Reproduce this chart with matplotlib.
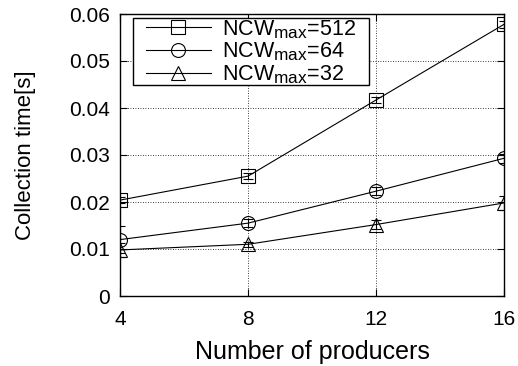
import matplotlib
matplotlib.use("Agg")
import matplotlib.pyplot as plt
from matplotlib.patches import Rectangle
import matplotlib._mathtext as _mt

_mt.SHRINK_FACTOR = 0.8

producers = [4, 8, 12, 16]
t512 = [0.0204, 0.0255, 0.0417, 0.0578]
t64 = [0.0120, 0.0155, 0.0223, 0.0293]
t32 = [0.0098, 0.0110, 0.0152, 0.0198]
e512 = [0.0006, 0.0007, 0.0007, 0.0008]
e64 = [0.0028, 0.0009, 0.0009, 0.0009]
e32 = [0.0014, 0.0005, 0.0010, 0.0015]
labels = ["NCW$_{\\mathregular{max}}$=512", "NCW$_{\\mathregular{max}}$=64", "NCW$_{\\mathregular{max}}$=32"]
markers = ["s", "o", "^"]
yticks = [0, 0.01, 0.02, 0.03, 0.04, 0.05, 0.06]
ytick_labels = ["0", "0.01", "0.02", "0.03", "0.04", "0.05", "0.06"]

plt.rcParams['font.family'] = ['Liberation Sans', 'DejaVu Sans']
plt.rcParams['mathtext.fontset'] = 'custom'
plt.rcParams['mathtext.rm'] = 'Liberation Sans'

W, H = 518, 366
L, R, T, B = 120, 504, 14, 296
fig = plt.figure(figsize=(W/100, H/100), dpi=100)
ax = fig.add_axes([L/W, 1-B/H, (R-L)/W, (B-T)/H])

for y, e, m, lab in zip([t512, t64, t32], [e512, e64, e32], markers, labels):
    ax.errorbar(producers, y, yerr=e, fmt='none', ecolor='black',
                elinewidth=0.8, capsize=3.5, capthick=0.8)
    ax.plot(producers, y, marker=m, color='black', mfc='none',
            markersize=10, linewidth=0.8, markeredgewidth=0.8, label=lab)

ax.set_xlim(4, 16)
ax.set_ylim(0, 0.06)
ax.set_xticks(producers)
ax.set_yticks(yticks)
ax.set_yticklabels(ytick_labels)
ax.tick_params(direction='in', top=True, right=True, labelsize=15, length=5)
ax.tick_params(axis='x', pad=10)
ax.tick_params(axis='y', pad=7)
ax.grid(True, linestyle=(0, (1, 2)), color='black', linewidth=0.6)
ax.set_xlabel("Number of producers", fontsize=18, labelpad=8)
ax.set_ylabel("Collection time[s]", fontsize=16, labelpad=24)
for s in ax.spines.values():
    s.set_linewidth(1.0)

# legend frame (box drawn separately for gnuplot-like asymmetric padding)
fx0, fx1, fy0, fy1 = 133, 369, 18, 85
frame = Rectangle(((fx0-L)/(R-L), 1-(fy1-T)/(B-T)), (fx1-fx0)/(R-L), (fy1-fy0)/(B-T),
                  transform=ax.transAxes, facecolor='white', edgecolor='black',
                  linewidth=1.0, zorder=4.5)
ax.add_patch(frame)
leg = ax.legend(loc='upper left', bbox_to_anchor=((146-L)/(R-L), 1-(fy0-T)/(B-T)),
                fontsize=15.5, frameon=False, borderaxespad=0.0, handlelength=3.0,
                labelspacing=0.0, borderpad=0.0, handletextpad=0.55)
leg.set_zorder(5)

fig.savefig("out.png", dpi=100)
